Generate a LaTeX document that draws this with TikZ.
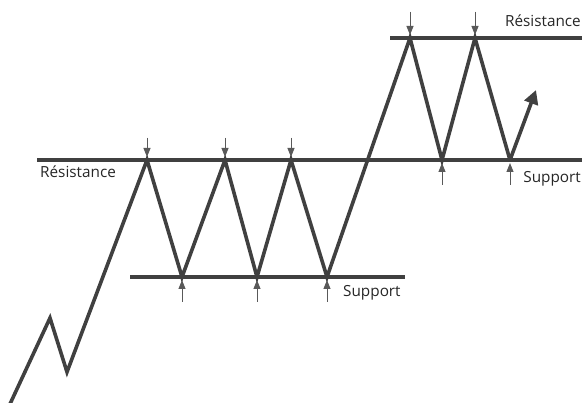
\documentclass[tikz,border=0pt]{standalone}
\usepackage{fontspec}
\setmainfont{Open Sans}
\usetikzlibrary{arrows.meta}
\begin{document}
\begin{tikzpicture}[x=1pt,y=-1pt,
  level/.style={line width=3.6pt,draw=black!75},
  price/.style={line width=3.6pt,draw=black!75,line join=miter},
  marker/.style={line width=1pt,draw=black!65,fill=black!70,-{Triangle[length=9pt,width=7pt]}},
  lbl/.style={font=\fontsize{15.3}{17}\selectfont,text=black!85,inner sep=0pt}]
\useasboundingbox (0,0) rectangle (582,403);
% levels
\coordinate (r1a) at (37,160); \coordinate (r1b) at (582,160);
\coordinate (s1a) at (130,277); \coordinate (s1b) at (405,277);
\coordinate (r2a) at (390,38); \coordinate (r2b) at (582,38);
\draw[level] (r1a) -- (r1b);
\draw[level] (s1a) -- (s1b);
\draw[level] (r2a) -- (r2b);
% price path
\coordinate (p0) at (10,404);
\coordinate (p1) at (50,318);
\coordinate (p2) at (67,372);
\coordinate (p3) at (147,160);
\coordinate (p4) at (182,277);
\coordinate (p5) at (225,160);
\coordinate (p6) at (257,277);
\coordinate (p7) at (291,160);
\coordinate (p8) at (327,277);
\coordinate (p9) at (410,38);
\coordinate (p10) at (442,160);
\coordinate (p11) at (475,38);
\coordinate (p12) at (510,160);
\coordinate (p13) at (536,90);
\begin{scope}
\clip (0,0) rectangle (582,403);
\draw[price] (p0) -- (p1) -- (p2) -- (p3) -- (p4) -- (p5) -- (p6) -- (p7) -- (p8) -- (p9) -- (p10) -- (p11) -- (p12);
\end{scope}
\draw[line width=3.6pt,draw=black!75,-{Triangle[length=14pt,width=14pt]}] (p12) -- (p13);
% markers
\foreach \p in {p3,p5,p7}{\draw[marker] ([yshift=22pt]\p) -- ([yshift=3pt]\p);}
\foreach \p in {p9,p11}{\draw[marker] ([yshift=26pt]\p) -- ([yshift=3pt]\p);}
\foreach \p in {p4,p6,p8}{\draw[marker] ([yshift=-25pt]\p) -- ([yshift=-3pt]\p);}
\foreach \p in {p10,p12}{\draw[marker] ([yshift=-25pt]\p) -- ([yshift=-3pt]\p);}
% labels
\node[lbl,anchor=west] (l1) at (40,172) {Résistance};
\node[lbl,anchor=west] (l2) at (343,293) {Support};
\node[lbl,anchor=east] (l3) at (581,21) {Résistance};
\node[lbl,anchor=east] (l4) at (581,179) {Support};
\end{tikzpicture}
\end{document}
